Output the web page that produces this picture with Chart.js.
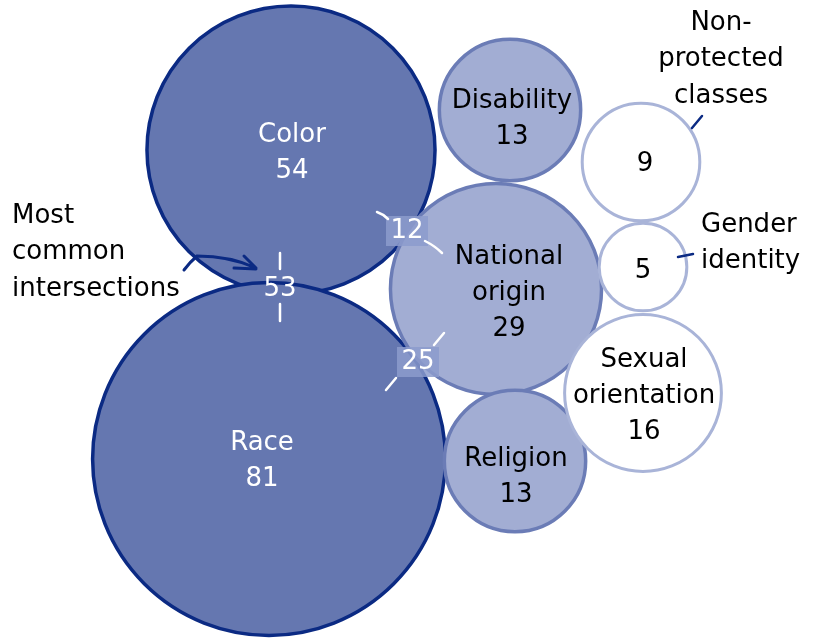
<!DOCTYPE html>
<html>
<head>
<meta charset="utf-8">
<script src="https://cdn.jsdelivr.net/npm/chart.js@4"></script>
<style>
  html, body { margin: 0; padding: 0; background: #fff; }
  #wrap { width: 815px; height: 638px; }
</style>
</head>
<body>
<div id="wrap"><canvas id="bubbles" width="815" height="638"></canvas></div>
<script>
// bubble data: name lines, count, centre on an 815 x 638 grid
const darkNames = [['Color'], ['Race']];
const darkCounts = [54, 81];
const darkX = [291, 269];
const darkY = [150, 459];

const midNames = [['Disability'], ['National', 'origin'], ['Religion']];
const midCounts = [13, 29, 13];
const midX = [510, 496, 515];
const midY = [110, 289, 461];

const openNames = [[], [], ['Sexual', 'orientation']];
const openCounts = [9, 5, 16];
const openX = [641, 643, 643];
const openY = [162, 267, 393];

// overlap counts
const interLabels = ['53', '12', '25'];
const interX = [280, 407, 418];
const interY = [289, 231, 362];

// side notes
const noteLines = [['Most', 'common', 'intersections'], ['Non-', 'protected', 'classes'], ['Gender', 'identity']];
const noteX = [12, 721, 701];
const noteY = [215, 22, 224];

const K = 19.6; // px of radius per sqrt(count)

function pts(xs, ys, counts, names) {
  return xs.map((x, i) => ({ x: x, y: ys[i], v: counts[i], names: names[i] }));
}

const FONT = '"DejaVu Sans", sans-serif';

const labelPlugin = {
  id: 'labels',
  afterDatasetsDraw(chart) {
    const c = chart.ctx;
    const sx = chart.scales.x, sy = chart.scales.y;
    const X = v => sx.getPixelForValue(v);
    const Y = v => sy.getPixelForValue(v);
    c.save();
    c.font = '26px ' + FONT;
    c.textAlign = 'center';
    c.textBaseline = 'middle';

    // text inside each bubble
    chart.data.datasets.forEach((ds, di) => {
      const meta = chart.getDatasetMeta(di);
      meta.data.forEach((el, i) => {
        const p = ds.data[i];
        const lines = p.names.concat([String(p.v)]);
        const sh = ds.textShift[i];
        c.fillStyle = ds.textColor;
        const top = el.y + sh[1] - (lines.length - 1) * 36 / 2;
        lines.forEach((t, j) => c.fillText(t, el.x + sh[0], top + j * 36 + 1));
      });
    });

    // intersection numbers
    c.strokeStyle = '#fff';
    c.lineWidth = 2.5;
    c.lineCap = 'round';
    interLabels.forEach((t, i) => {
      const x = X(interX[i]);
      const y = Y(interY[i]);
      if (i > 0) {
        c.fillStyle = 'rgba(140,155,205,0.85)';
        c.fillRect(x - 21, y - 15, 42, 30);
      }
      c.fillStyle = '#fff';
      c.fillText(t, x, y);
      c.beginPath();
      if (i === 0) {
        c.moveTo(x, y - 36); c.lineTo(x, y - 20);
        c.moveTo(x, y + 15); c.lineTo(x, y + 32);
      } else if (i === 1) {
        c.moveTo(x - 30, y - 19); c.quadraticCurveTo(x - 24, y - 17, x - 19, y - 12);
        c.moveTo(x + 18, y + 10); c.quadraticCurveTo(x + 28, y + 15, x + 35, y + 22);
      } else {
        c.moveTo(x + 26, y - 29); c.lineTo(x + 16, y - 17);
        c.moveTo(x - 22, y + 16); c.lineTo(x - 32, y + 28);
      }
      c.stroke();
    });

    // side notes
    c.fillStyle = '#000';
    noteLines.forEach((lines, i) => {
      const x = X(noteX[i]);
      const y = Y(noteY[i]);
      c.textAlign = i === 1 ? 'center' : 'left';
      lines.forEach((t, j) => c.fillText(t, x, y + 1 + j * 36.5));
    });

    // pointer strokes
    c.strokeStyle = '#0b2a83';
    c.lineWidth = 3;
    c.beginPath();
    c.moveTo(X(184), Y(270));
    c.quadraticCurveTo(X(190), Y(262), X(197), Y(256));
    c.quadraticCurveTo(X(230), Y(256), X(256), Y(268));
    c.moveTo(X(244), Y(256)); c.lineTo(X(256), Y(268));
    c.moveTo(X(234), Y(268)); c.lineTo(X(256), Y(269));
    c.stroke();
    c.lineWidth = 2.5;
    c.beginPath();
    c.moveTo(X(692), Y(128)); c.lineTo(X(702), Y(116));
    c.moveTo(X(678), Y(257)); c.lineTo(X(693), Y(254));
    c.stroke();
    c.restore();
  }
};

new Chart(document.getElementById('bubbles'), {
  type: 'bubble',
  data: {
    datasets: [{
      label: 'open',
      data: pts(openX, openY, openCounts, openNames),
      backgroundColor: '#ffffff',
      borderColor: '#a9b4d8',
      borderWidth: 3,
      textColor: '#000',
      textShift: [[4, 1], [0, 3], [1, 2]],
      clip: false,
      order: 1
    }, {
      label: 'mid',
      data: pts(midX, midY, midCounts, midNames),
      backgroundColor: '#a2add3',
      borderColor: '#6b7cb6',
      borderWidth: 3.5,
      textColor: '#000',
      textShift: [[2, 8], [13, 3], [1, 15]],
      clip: false,
      order: 2
    }, {
      label: 'dark',
      data: pts(darkX, darkY, darkCounts, darkNames),
      backgroundColor: '#6577b0',
      borderColor: '#0b2a83',
      borderWidth: 3.5,
      textColor: '#fff',
      textShift: [[1, 2], [-7, 1], [0, 0]],
      clip: false,
      order: 3
    }]
  },
  options: {
    responsive: false,
    animation: false,
    layout: { padding: 0, autoPadding: false },
    elements: {
      point: {
        radius: ctx => K * Math.sqrt(ctx.raw ? ctx.raw.v : 0),
        hoverRadius: 0
      }
    },
    scales: {
      x: { type: 'linear', min: 0, max: 815, display: false },
      y: { type: 'linear', min: 0, max: 638, reverse: true, display: false }
    },
    plugins: {
      legend: { display: false },
      tooltip: { enabled: false }
    }
  },
  plugins: [labelPlugin]
});
</script>
</body>
</html>
